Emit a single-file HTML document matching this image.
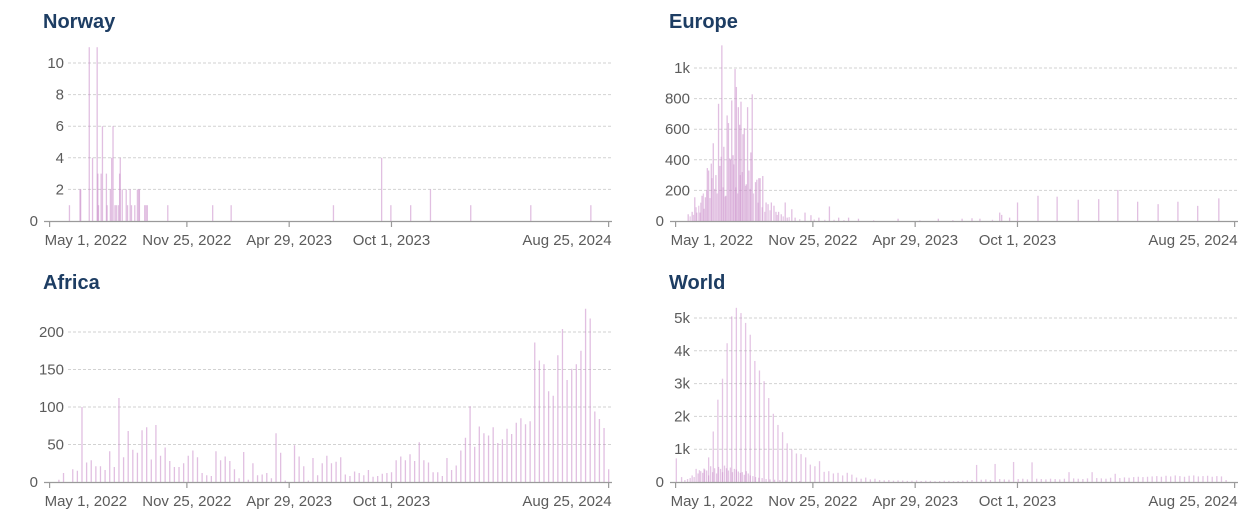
<!DOCTYPE html>
<html><head><meta charset="utf-8">
<style>
html,body{margin:0;padding:0;background:#fff;}
svg{display:block;font-family:"Liberation Sans",sans-serif;}
.title{font-size:20px;font-weight:bold;fill:#1d3d63;}
.tick{font-size:15px;fill:#5b5b5b;}
</style></head>
<body>
<svg id="chart" width="1252" height="530" xmlns="http://www.w3.org/2000/svg"></svg>
<script>
// ---- data (day offsets relative to May 1, 2022) ----
const xTickDays = [0, 208, 363, 518, 847];
const xTickLabels = ["May 1, 2022", "Nov 25, 2022", "Apr 29, 2023", "Oct 1, 2023", "Aug 25, 2024"];

const norwayDays = [30,46,47,60,65,72,73,74,78,80,86,87,92,94,96,99,101,104,106,107,110,116,118,122,124,129,133,135,136,144,146,148,179,247,275,430,503,517,547,577,638,729,820];
const norwayVals = [1,2,2,11,4,11,3,1,3,6,3,1,2,4,6,1,1,1,3,4,2,2,1,2,1,1,2,2,2,1,1,1,1,1,1,1,4,1,1,2,1,1,1];

const europeDays = [19,25,29,32,37,40,43,45,48,50,54,57,61,65,67,70,73,76,78,80,83,85,87,90,92,95,97,99,102,104,107,109,111,114,116,121,123,126,128,132,137,140,145,149,152,156,160,166,169,176,181,196,205,217,233,247,262,277,337,398,434,449,461,491,494,506,518,549,578,610,641,670,700,731,761,791,823];
const europeVals = [44,60,155,55,55,165,80,155,346,330,375,508,300,766,360,1148,485,165,690,640,400,788,430,993,876,744,629,780,567,607,240,744,330,448,828,254,270,280,280,294,121,110,121,100,60,60,44,121,22,77,22,55,38,22,95,22,22,15,15,15,15,18,15,55,40,22,121,165,159,139,143,203,126,110,126,99,148];
const europeExtraDays = [22,27,31,35,38,42,47,52,55,59,63,69,72,75,82,88,91,94,98,101,106,113,118,125,131,135,143,154,163,172,188,210,226,240,255,300,370,420,480];
const europeExtraVals = [30,40,90,100,120,180,200,150,280,210,180,420,220,160,410,370,220,180,300,320,230,210,180,120,90,60,70,40,30,25,12,10,8,8,6,5,5,6,8];

const africaStartDay = 14;
const africaVals = [3,12,0,17,15,100,26,29,21,21,16,41,20,112,33,68,43,39,69,73,30,76,35,46,28,20,20,25,35,42,33,12,9,8,41,29,34,28,17,5,40,3,25,9,10,12,5,65,39,2,0,49,34,21,2,32,9,25,35,25,27,33,10,8,14,12,9,16,7,8,11,12,13,29,34,29,37,28,53,29,26,13,13,8,32,16,22,42,59,101,47,74,65,62,73,52,57,71,64,79,85,77,81,186,162,157,121,115,169,204,136,151,157,175,231,218,94,84,72,17];

const worldStartDay = 36;
const worldVals = [360,410,750,1540,2510,3150,4230,5050,5310,5150,4850,4490,3690,3400,3075,2560,2080,1740,1520,1180,990,870,850,750,530,480,635,310,330,260,280,200,280,225,135,100,135,80,100,
60,50,60,40,50,45,35,40,50,30,40,35,25,30,40,35,25,30,40,50,60,520,70,80,60,550,90,80,70,610,90,100,80,600,100,90,80,100,90,80,100,300,110,100,90,110,300,120,110,100,130,250,120,140,130,150,160,150,160,170,180,160,190,170,200,180,160,190,200,170,180,190,160,180,170,60];
const worldEarlyDays = [1,9,14,18,22,25,28,31,34,38,41,44,47,50,53,56,59,62,65,68,71,74,77,80,83,86,89,92,95,98,101,104,107,110,113,117,121,126,131,137,143,150,158,167,176,188];
const worldEarlyVals = [720,150,60,90,120,200,150,400,260,330,280,380,350,200,480,300,420,260,460,400,300,500,420,350,440,300,400,380,320,280,300,220,330,260,200,180,150,130,120,90,80,70,60,50,40,30];

// ---- rendering ----
const svg = document.getElementById('chart');
const NS = 'http://www.w3.org/2000/svg';
function mk(tag, attrs, parent){
  const e = document.createElementNS(NS, tag);
  for (const k in attrs) e.setAttribute(k, attrs[k]);
  (parent||svg).appendChild(e);
  return e;
}

function panel(cfg){
  const g = mk('g', {});
  
  
  const ox = cfg.ox, y0 = cfg.y0;
  const xs = d => ox + 49.6 + d * 0.66;
  const ys = v => y0 - v * cfg.k;
  const t = mk('text', {x: ox + 43, y: cfg.y0 - 193, class: 'title'}, g);
  t.textContent = cfg.title;
  
  
  cfg.yTicks.forEach((v, i) => {
    const y = ys(v);
    if (v !== 0) {
      const l = mk('line', {x1: ox + 68, x2: ox + 612, y1: y, y2: y, stroke: '#d2d2d2', 'stroke-dasharray': '3,2', 'stroke-width': 1}, g);
      
      
    }
    const tx = mk('text', {x: v === 0 ? ox + 38 : ox + 64, y: y + 5, 'text-anchor': 'end', class: 'tick'}, g);
    tx.textContent = cfg.yLabels[i];
    
    
  });
  const bars = mk('g', {}, g);
  
  
  cfg.series.forEach(s => {
    s.days.forEach((d, i) => {
      const v = s.vals[i];
      if (!v) return;
      const x = xs(d);
      const r = mk('rect', {x: x - 0.6, y: ys(v), width: 1.3, height: v * cfg.k, fill: s.color, 'fill-opacity': s.op}, bars);
      
      
    });
  });
  const ax = mk('line', {x1: ox + 44, x2: ox + 612, y1: y0 + 0.5, y2: y0 + 0.5, stroke: '#9a9a9a', 'stroke-width': 1.2}, g);
  
  
  xTickDays.forEach((d, i) => {
    const x = xs(d);
    const tk = mk('line', {x1: x, x2: x, y1: y0, y2: y0 + 6, stroke: '#9a9a9a', 'stroke-width': 1.2}, g);
    
    
    const anchor = i === 0 ? 'start' : (i === xTickDays.length - 1 ? 'end' : 'middle');
    const tx = mk('text', {x: i === 0 ? x - 5 : (i === xTickDays.length - 1 ? x + 3 : x), y: y0 + 24, 'text-anchor': anchor, class: 'tick'}, g);
    tx.textContent = xTickLabels[i];
    
    
  });
}

const col = '#c98bc9';
const africaDays = africaVals.map((v, i) => africaStartDay + 7 * i);
const worldDays = worldVals.map((v, i) => worldStartDay + 7 * i);

panel({name: 'norway', title: 'Norway', ox: 0, y0: 221, k: 15.8,
  yTicks: [0,2,4,6,8,10], yLabels: ['0','2','4','6','8','10'],
  series: [{days: norwayDays, vals: norwayVals, color: col, op: 0.55}]});
panel({name: 'europe', title: 'Europe', ox: 626, y0: 221, k: 0.153,
  yTicks: [0,200,400,600,800,1000], yLabels: ['0','200','400','600','800','1k'],
  series: [{days: europeExtraDays, vals: europeExtraVals, color: col, op: 0.45},
           {days: europeDays, vals: europeVals, color: col, op: 0.55}]});
panel({name: 'africa', title: 'Africa', ox: 0, y0: 482, k: 0.75,
  yTicks: [0,50,100,150,200], yLabels: ['0','50','100','150','200'],
  series: [{days: africaDays, vals: africaVals, color: col, op: 0.55}]});
panel({name: 'world', title: 'World', ox: 626, y0: 482, k: 0.0328,
  yTicks: [0,1000,2000,3000,4000,5000], yLabels: ['0','1k','2k','3k','4k','5k'],
  series: [{days: worldEarlyDays, vals: worldEarlyVals, color: col, op: 0.5},
           {days: worldDays, vals: worldVals, color: col, op: 0.5}]});
</script>
</body></html>
